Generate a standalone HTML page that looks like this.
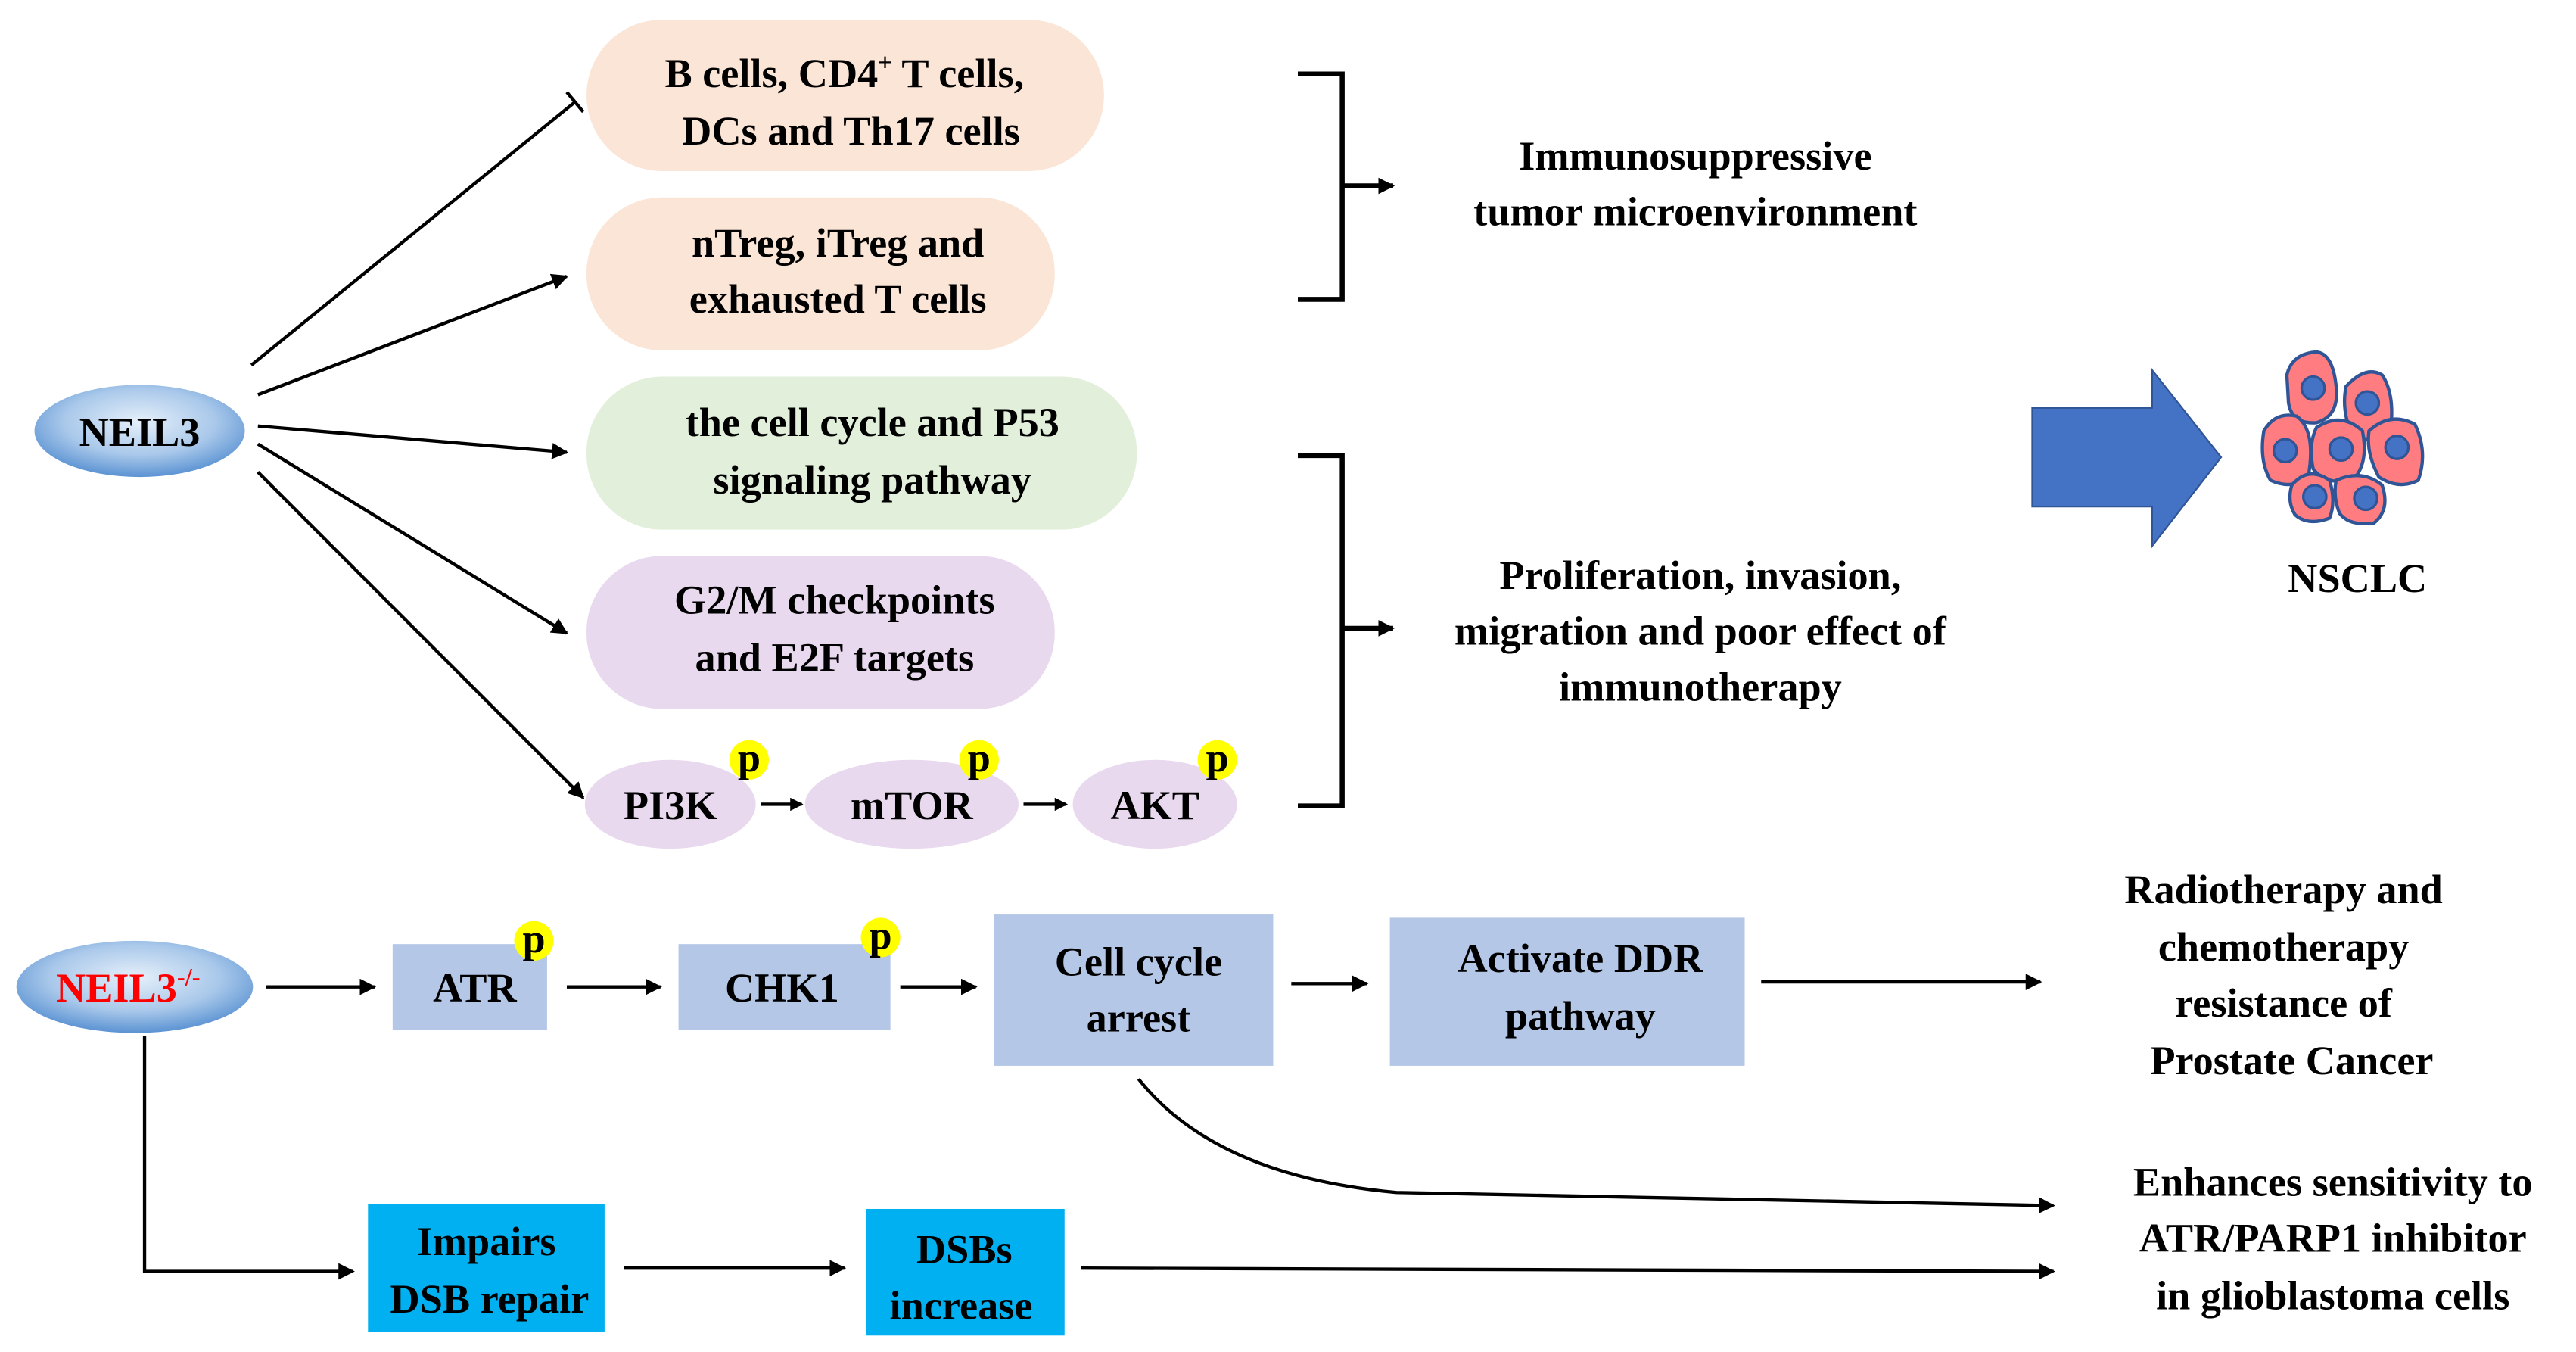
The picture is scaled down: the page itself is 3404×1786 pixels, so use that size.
<!DOCTYPE html>
<html><head><meta charset="utf-8"><style>
html,body{margin:0;padding:0;background:#fff;}
svg{display:block;}
svg text{font-family:"Liberation Serif","Times New Roman",Times,serif !important;font-weight:bold;font-size:25px;fill:#000;text-anchor:middle;}
</style></head><body>
<svg width="3404" height="1786" viewBox="0 0 1568 822" preserveAspectRatio="none" xmlns="http://www.w3.org/2000/svg" font-family="Liberation Serif, serif" font-weight="bold">
<defs>
<radialGradient id="g" cx="50%" cy="40%" r="60%">
<stop offset="0" stop-color="#e6f0fa"/><stop offset="0.6" stop-color="#a9c8ea"/><stop offset="1" stop-color="#5b93d3"/>
</radialGradient>
<marker id="a" markerWidth="10" markerHeight="10" refX="9" refY="5" orient="auto" markerUnits="userSpaceOnUse" viewBox="0 0 10 10">
<path d="M0,0 L10,5 L0,10 z" fill="#000"/></marker>
<marker id="s" markerWidth="8" markerHeight="8" refX="7" refY="4" orient="auto" markerUnits="userSpaceOnUse" viewBox="0 0 8 8">
<path d="M0,0 L8,4 L0,8 z" fill="#000"/></marker>
</defs>
<g stroke="#000" stroke-width="2" fill="none">
<line x1="153" y1="222" x2="350" y2="62"/>
<line x1="345" y1="56" x2="355" y2="68"/>
<line x1="157" y1="240" x2="345" y2="168" marker-end="url(#a)"/>
<line x1="157" y1="259" x2="345" y2="275" marker-end="url(#a)"/>
<line x1="157" y1="270" x2="345" y2="385" marker-end="url(#a)"/>
<line x1="157" y1="287" x2="355" y2="485" marker-end="url(#a)"/>
<path d="M790,45 H817 V182 H790" stroke-width="3"/>
<line x1="817" y1="113" x2="848" y2="113" stroke-width="3" marker-end="url(#a)"/>
<path d="M790,277 H817 V490 H790" stroke-width="3"/>
<line x1="817" y1="382" x2="848" y2="382" stroke-width="3" marker-end="url(#a)"/>
<line x1="463" y1="489" x2="488" y2="489" marker-end="url(#s)"/>
<line x1="623" y1="489" x2="649" y2="489" marker-end="url(#s)"/>
<line x1="162" y1="600" x2="228" y2="600" marker-end="url(#a)"/>
<line x1="345" y1="600" x2="402" y2="600" marker-end="url(#a)"/>
<line x1="548" y1="600" x2="594" y2="600" marker-end="url(#a)"/>
<line x1="786" y1="598" x2="832" y2="598" marker-end="url(#a)"/>
<line x1="1072" y1="597" x2="1242" y2="597" marker-end="url(#a)"/>
<path d="M693,656 Q740,715 850,725 L1250,733" marker-end="url(#a)"/>
<path d="M88,630 V773 H215" marker-end="url(#a)"/>
<line x1="380" y1="771" x2="514" y2="771" marker-end="url(#a)"/>
<line x1="658" y1="771" x2="1250" y2="773" marker-end="url(#a)"/>
</g>
<ellipse cx="85" cy="262" rx="64" ry="28" fill="url(#g)"/>
<text x="85" y="271" font-size="26">NEIL3</text>
<rect x="357" y="12" width="315" height="92" rx="46" fill="#fbe5d6"/>
<text x="514" y="53">B cells, CD4<tspan font-size="15" dy="-10">+</tspan><tspan dy="10"> T cells,</tspan></text>
<text x="518" y="88">DCs and Th17 cells</text>
<rect x="357" y="120" width="285" height="93" rx="46" fill="#fbe5d6"/>
<text x="510" y="156">nTreg, iTreg and</text>
<text x="510" y="190">exhausted T cells</text>
<rect x="357" y="229" width="335" height="93" rx="46" fill="#e2efda"/>
<text x="531" y="265">the cell cycle and P53</text>
<text x="531" y="300">signaling pathway</text>
<rect x="357" y="338" width="285" height="93" rx="46" fill="#e9d9ef"/>
<text x="508" y="373">G2/M checkpoints</text>
<text x="508" y="408">and E2F targets</text>
<ellipse cx="408" cy="489" rx="52" ry="27" fill="#e9d9ef"/>
<ellipse cx="555" cy="489" rx="65" ry="27" fill="#e9d9ef"/>
<ellipse cx="703" cy="489" rx="50" ry="27" fill="#e9d9ef"/>
<text x="408" y="498">PI3K</text><text x="555" y="498">mTOR</text><text x="703" y="498">AKT</text>
<text x="1032" y="103">Immunosuppressive</text>
<text x="1032" y="137">tumor microenvironment</text>
<text x="1035" y="358">Proliferation, invasion,</text>
<text x="1035" y="392">migration and poor effect of</text>
<text x="1035" y="426">immunotherapy</text>
<path d="M1237,248 H1310 V225 L1352,278 L1310,332 V308 H1237 Z" fill="#4472c4" stroke="#2f5597" stroke-width="1"/>
<g stroke="#2f5597" stroke-width="2" fill="#ff7c80">
<path d="M1392,228 Q1395,215 1410,214 Q1420,215 1422,235 Q1424,253 1410,257 Q1395,258 1393,245 Z"/>
<path d="M1428,235 Q1440,222 1450,228 Q1458,240 1455,262 Q1445,270 1432,265 Q1425,250 1428,235 Z"/>
<path d="M1378,262 Q1385,250 1398,253 Q1410,262 1405,290 Q1395,298 1382,292 Q1375,280 1378,262 Z"/>
<path d="M1410,260 Q1425,250 1438,262 Q1442,282 1432,292 Q1415,295 1408,285 Q1405,270 1410,260 Z"/>
<path d="M1442,262 Q1455,250 1470,258 Q1478,275 1472,292 Q1460,298 1448,290 Q1440,275 1442,262 Z"/>
<path d="M1395,295 Q1405,283 1418,292 Q1422,305 1418,315 Q1405,320 1397,313 Q1392,305 1395,295 Z"/>
<path d="M1422,292 Q1438,285 1450,295 Q1455,310 1445,318 Q1430,320 1424,312 Q1420,302 1422,292 Z"/>
</g>
<g fill="#4472c4" stroke="#2f5597" stroke-width="1.5">
<circle cx="1408" cy="236" r="7"/><circle cx="1441" cy="245" r="7"/><circle cx="1391" cy="274" r="7"/><circle cx="1425" cy="273" r="7"/><circle cx="1459" cy="272" r="7"/><circle cx="1409" cy="302" r="7"/><circle cx="1440" cy="303" r="7"/>
</g>
<text x="1435" y="360">NSCLC</text>
<ellipse cx="82" cy="600" rx="72" ry="28" fill="url(#g)"/>
<text x="78" y="609" style="fill:#ff0000">NEIL3<tspan font-size="15" dy="-10" style="fill:#ff0000">-/-</tspan></text>
<rect x="239" y="574" width="94" height="52" fill="#b4c7e7"/>
<text x="289" y="609">ATR</text>
<rect x="413" y="574" width="129" height="52" fill="#b4c7e7"/>
<text x="476" y="609">CHK1</text>
<rect x="605" y="556" width="170" height="92" fill="#b4c7e7"/>
<text x="693" y="593">Cell cycle</text><text x="693" y="627">arrest</text>
<rect x="846" y="558" width="216" height="90" fill="#b4c7e7"/>
<text x="962" y="591">Activate DDR</text><text x="962" y="626">pathway</text>
<g fill="#ffff00"><circle cx="456" cy="462" r="12"/><circle cx="596" cy="462" r="12"/><circle cx="741" cy="462" r="12"/><circle cx="325" cy="572" r="12"/><circle cx="536" cy="570" r="12"/></g>
<text x="456" y="469" font-size="20">p</text><text x="596" y="469" font-size="20">p</text><text x="741" y="469" font-size="20">p</text><text x="325" y="579" font-size="20">p</text><text x="536" y="577" font-size="20">p</text>
<text x="1390" y="549">Radiotherapy and</text>
<text x="1390" y="584">chemotherapy</text>
<text x="1390" y="618">resistance of</text>
<text x="1395" y="653">Prostate Cancer</text>
<rect x="224" y="732" width="144" height="78" fill="#00b0f0"/>
<text x="296" y="763">Impairs</text><text x="298" y="798">DSB repair</text>
<rect x="527" y="735" width="121" height="77" fill="#00b0f0"/>
<text x="587" y="768">DSBs</text><text x="585" y="802">increase</text>
<text x="1420" y="727">Enhances sensitivity to</text>
<text x="1420" y="761">ATR/PARP1 inhibitor</text>
<text x="1420" y="796">in glioblastoma cells</text>
</svg>
</body></html>
